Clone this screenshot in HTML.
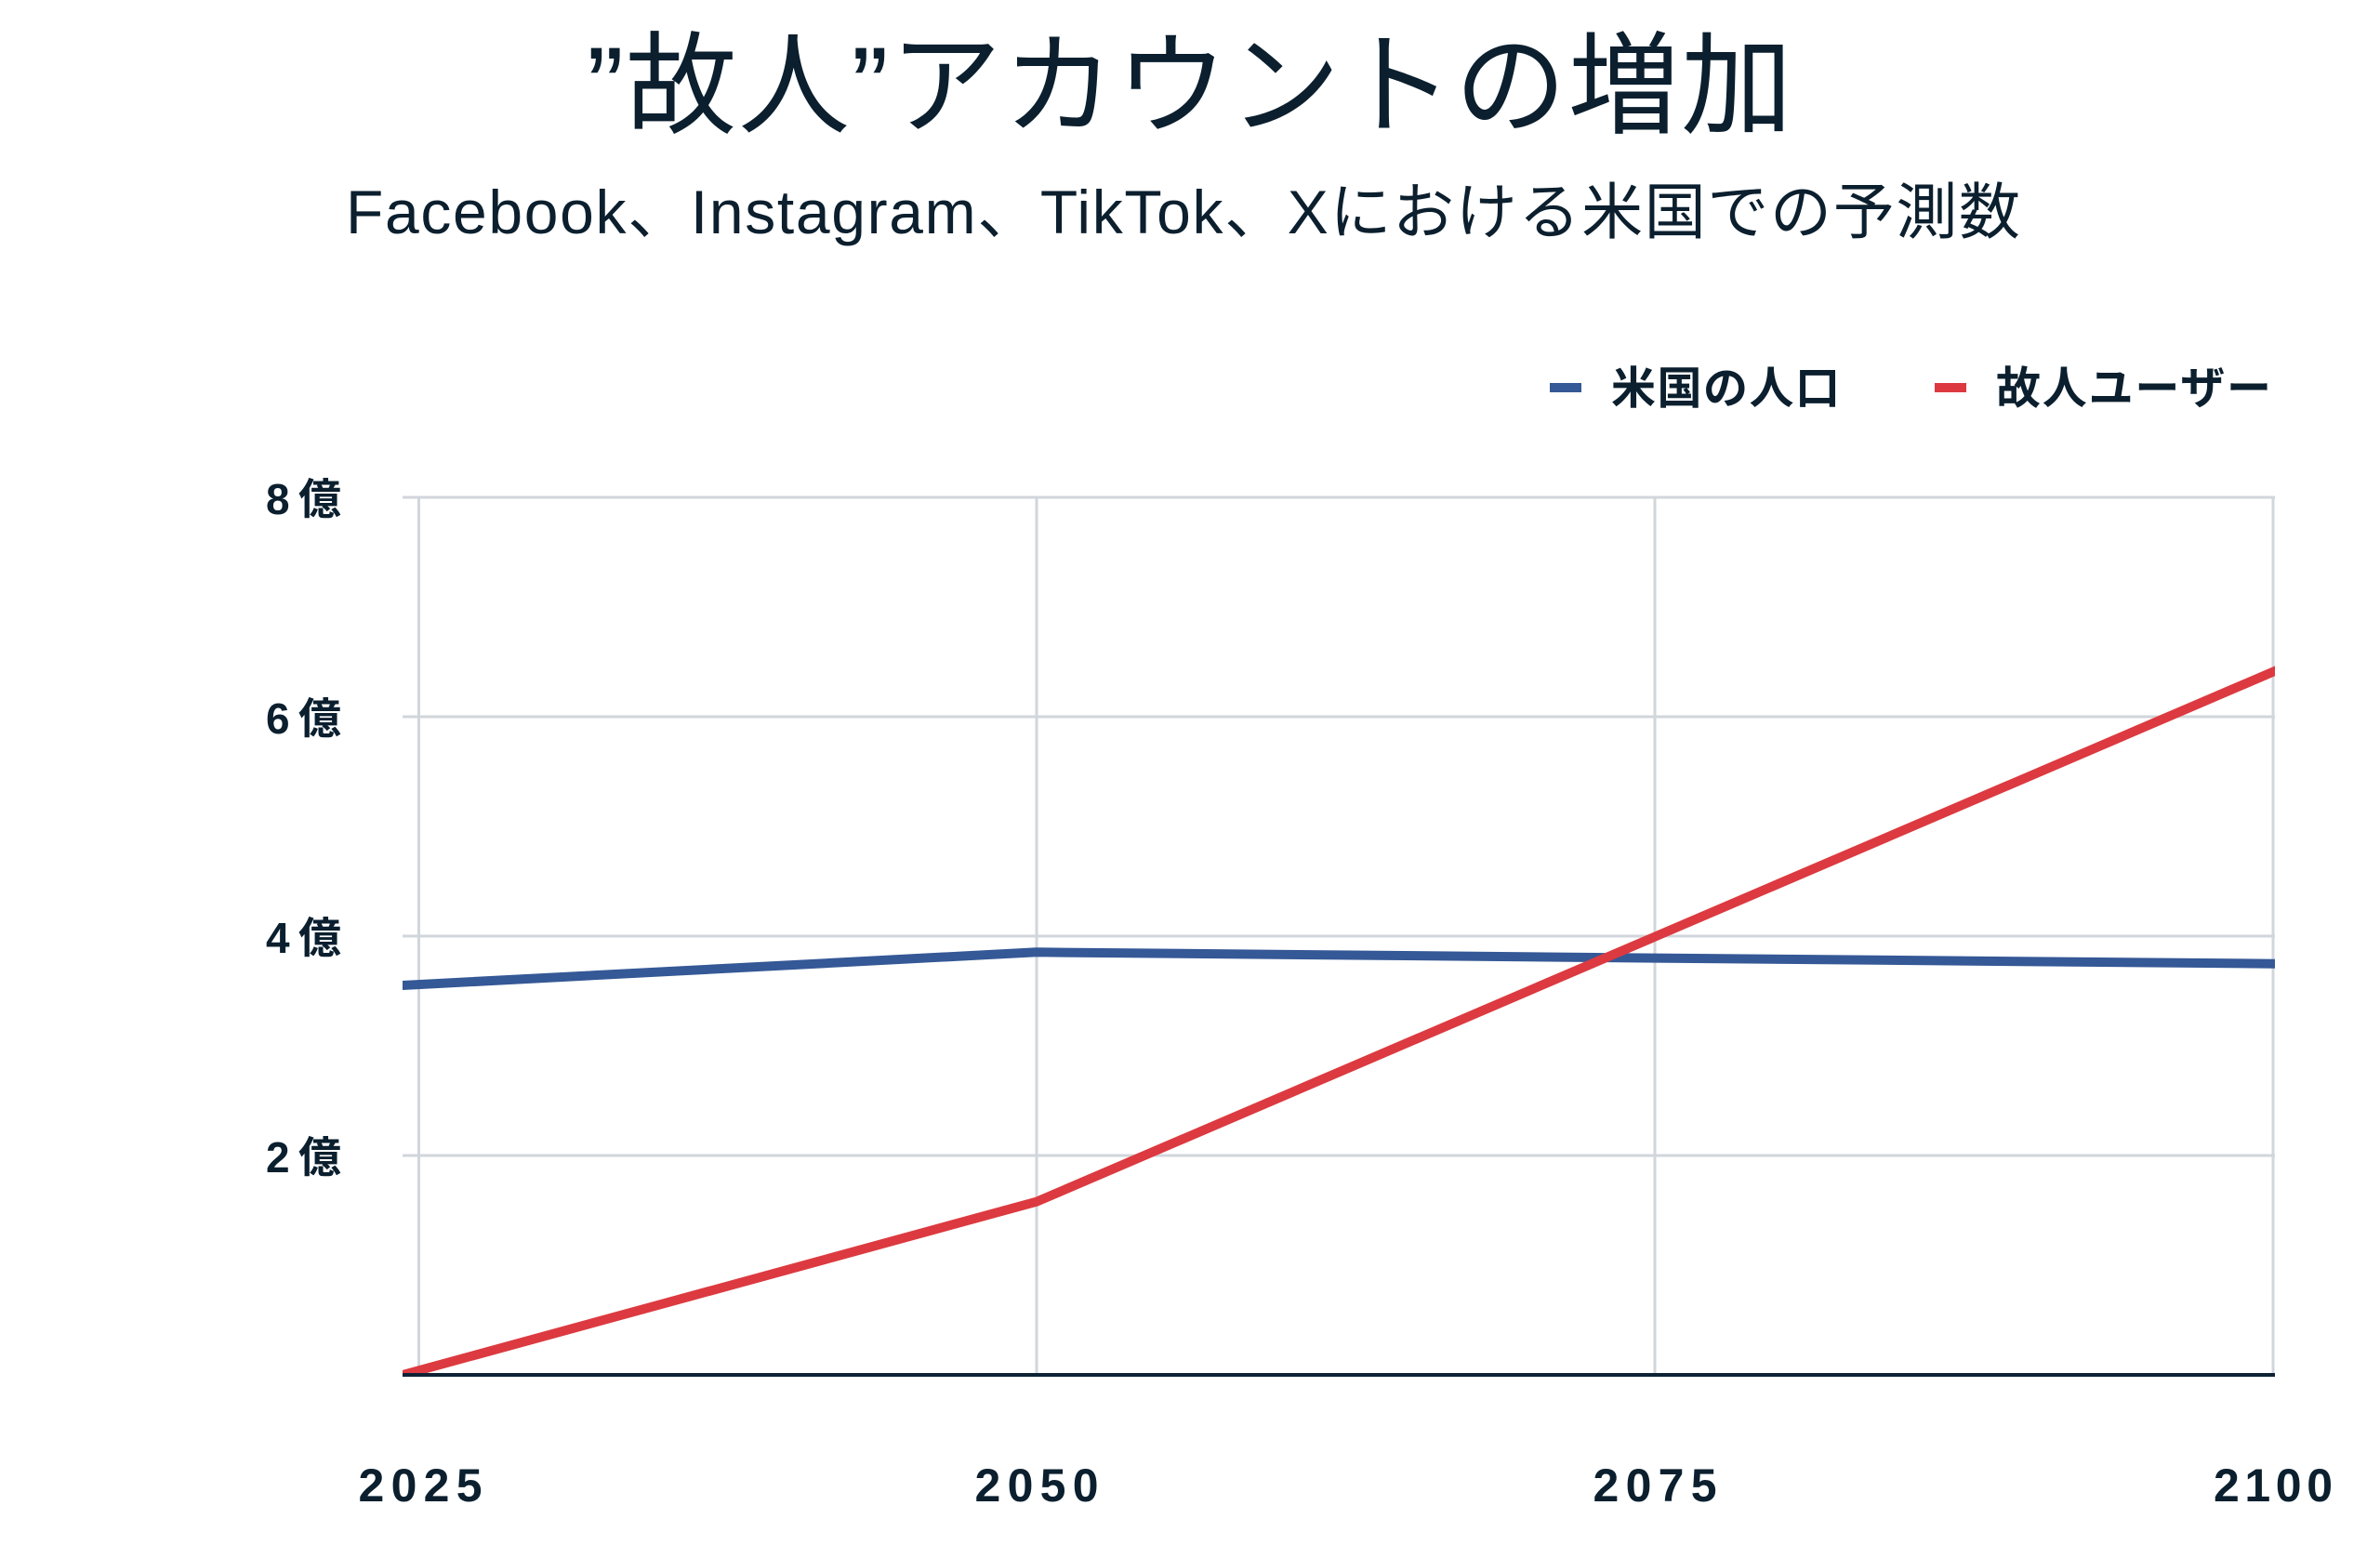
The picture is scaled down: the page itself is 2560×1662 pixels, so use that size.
<!DOCTYPE html>
<html>
<head>
<meta charset="utf-8">
<style>
  html, body { margin: 0; padding: 0; background: #ffffff; }
  body { width: 2560px; height: 1662px; overflow: hidden; }
  svg { display: block; }
  .t { font-family: "Liberation Sans", "Noto Sans CJK JP", sans-serif; fill: #0b1f2e; }
</style>
</head>
<body>
<svg width="2560" height="1662" viewBox="0 0 2560 1662" xmlns="http://www.w3.org/2000/svg">
  <rect x="0" y="0" width="2560" height="1662" fill="#ffffff"/>

  <!-- Title -->
  <text class="t" x="631" y="134" font-size="120" font-weight="400" textLength="1297" lengthAdjust="spacing">”故人”アカウントの増加</text>
  <!-- Subtitle -->
  <text class="t" x="372" y="251" font-size="66" font-weight="400" textLength="1801" lengthAdjust="spacing">Facebook、Instagram、TikTok、Xにおける米国での予測数</text>

  <!-- Legend -->
  <rect x="1667" y="412" width="34" height="10" fill="#355896"/>
  <text class="t" x="1733" y="434" font-size="48" font-weight="700" textLength="246" lengthAdjust="spacing">米国の人口</text>
  <rect x="2081" y="412" width="34" height="10" fill="#dc3a40"/>
  <text class="t" x="2147" y="434" font-size="48" font-weight="700" textLength="296" lengthAdjust="spacing">故人ユーザー</text>

  <!-- Gridlines -->
  <g stroke="#d1d6db" stroke-width="3" fill="none">
    <line x1="433" y1="535" x2="2447" y2="535"/>
    <line x1="433" y1="771" x2="2447" y2="771"/>
    <line x1="433" y1="1007" x2="2447" y2="1007"/>
    <line x1="433" y1="1243" x2="2447" y2="1243"/>
    <line x1="450.5" y1="534" x2="450.5" y2="1479"/>
    <line x1="1115" y1="534" x2="1115" y2="1479"/>
    <line x1="1780" y1="534" x2="1780" y2="1479"/>
    <line x1="2445" y1="534" x2="2445" y2="1479"/>
  </g>

  <!-- Y labels -->
  <g class="t" font-size="46" font-weight="700">
    <text x="286" y="553">8</text><text x="321" y="553">億</text>
    <text x="286" y="789">6</text><text x="321" y="789">億</text>
    <text x="286" y="1025">4</text><text x="321" y="1025">億</text>
    <text x="286" y="1261">2</text><text x="321" y="1261">億</text>
  </g>

  <!-- Series -->
  <defs>
    <clipPath id="plot">
      <rect x="433" y="0" width="2014" height="1477"/>
    </clipPath>
  </defs>
  <g clip-path="url(#plot)" fill="none" stroke-width="10" stroke-linejoin="round">
    <polyline stroke="#355896" points="425,1060.4 1115,1024.3 1780,1030.6 2455,1036.8"/>
    <polyline stroke="#dc3a40" points="425,1481.2 1115,1292.7 1780,1007.7 2455,718.4"/>
  </g>

  <!-- X axis line -->
  <line x1="433" y1="1479" x2="2447" y2="1479" stroke="#0e2235" stroke-width="4"/>

  <!-- X labels -->
  <g class="t" font-size="50" font-weight="700" text-anchor="middle">
    <text x="452" y="1615" textLength="133" lengthAdjust="spacing">2025</text>
    <text x="1115" y="1615" textLength="133" lengthAdjust="spacing">2050</text>
    <text x="1780" y="1615" textLength="133" lengthAdjust="spacing">2075</text>
    <text x="2445" y="1615" textLength="128" lengthAdjust="spacing">2100</text>
  </g>
</svg>
</body>
</html>
